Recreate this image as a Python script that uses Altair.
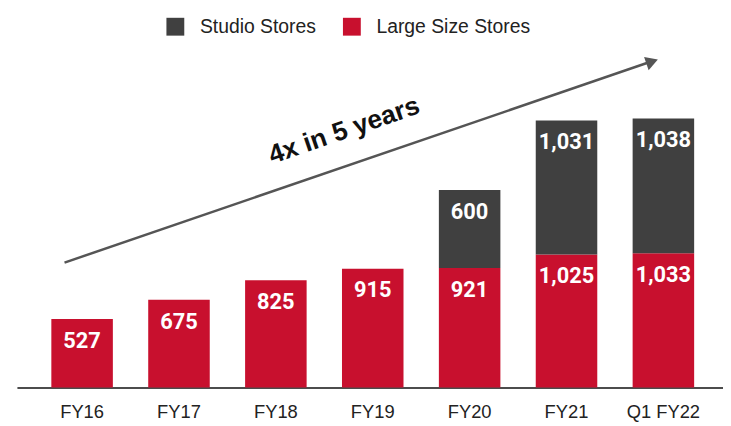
import altair as alt
import pandas as pd

categories = ["FY16", "FY17", "FY18", "FY19", "FY20", "FY21", "Q1 FY22"]
large_size = [527, 675, 825, 915, 921, 1025, 1033]
studio = [0, 0, 0, 0, 600, 1031, 1038]
series_order = ["Studio Stores", "Large Size Stores"]
series_colors = ["#404040", "#C8102E"]
annotation = "4x in 5 years"

rows = []
for c, l, s in zip(categories, large_size, studio):
    rows.append(dict(cat=c, series="Large Size Stores", value=l, y0=0, y1=l))
    if s:
        rows.append(dict(cat=c, series="Studio Stores", value=s, y0=l, y1=l + s))
df = pd.DataFrame(rows)
one = pd.DataFrame({"k": [0]})

x = alt.X(
    "cat:N", sort=categories, title=None,
    scale=alt.Scale(paddingInner=0.365, paddingOuter=0.3265, align=0.544),
    axis=alt.Axis(labelAngle=0, ticks=False, labelPadding=15, labelFontSize=18.5,
                  labelFont="Liberation Sans", labelColor="#222222",
                  domainColor="#111111", domainWidth=1.5, grid=False),
)
y_scale = alt.Scale(domain=[0, 2908], nice=False, zero=True)

bars = alt.Chart(df).mark_bar().encode(
    x=x,
    y=alt.Y("y0:Q", scale=y_scale, axis=None),
    y2="y1:Q",
    color=alt.Color(
        "series:N",
        scale=alt.Scale(domain=series_order, range=series_colors),
        legend=alt.Legend(
            title=None, orient="none", legendX=150, legendY=7, direction="horizontal",
            symbolType="square", symbolSize=324, symbolStrokeWidth=0, symbolOpacity=1,
            labelFontSize=19.5, labelFont="Liberation Sans", labelColor="#222222",
            labelOffset=15, columnPadding=26, padding=0,
        ),
    ),
)

labels = alt.Chart(df).mark_text(
    font="Roboto", fontWeight="bold", fontSize=22, color="white", dy=22, baseline="middle"
).encode(
    x=x,
    y=alt.Y("y1:Q", scale=y_scale),
    text=alt.Text("value:Q", format=","),
)

arrow_line = alt.Chart(one).mark_rule(color="#555555", strokeWidth=2.5).encode(
    x=alt.value(48), y=alt.value(255), x2=alt.value(636), y2=alt.value(53.5)
)
arrow_head = alt.Chart(one).mark_point(
    shape="triangle-right", filled=True, size=200, angle=341, color="#555555", opacity=1
).encode(x=alt.value(640.5), y=alt.value(52.3))

note = alt.Chart(one).mark_text(
    text=annotation, font="Liberation Sans", fontWeight="bold", fontSize=26.5,
    angle=341, align="center", baseline="middle", color="#111111"
).encode(x=alt.value(330), y=alt.value(122))

chart = alt.layer(bars, labels, arrow_line, arrow_head, note).properties(
    width=712, height=381,
    padding={"left": 9, "top": 0, "right": 0, "bottom": 36},
    autosize=alt.AutoSizeParams(type="none"),
).configure_view(stroke=None)

chart.save("out.html", embed_options={"renderer": "svg", "actions": False})
